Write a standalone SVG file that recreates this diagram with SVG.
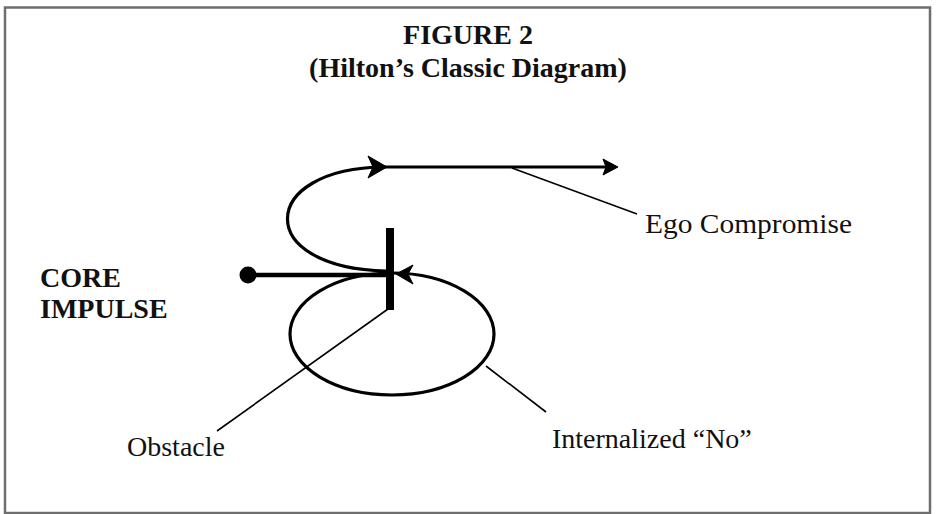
<svg xmlns="http://www.w3.org/2000/svg" width="936" height="514" viewBox="0 0 936 514">
<style>
.t{font-family:"Liberation Serif","Times New Roman",serif;font-size:28px;fill:#111}
.b{font-weight:bold}
.thick{fill:none;stroke:#000;stroke-width:3.2}
.lead{fill:none;stroke:#000;stroke-width:1.6}
.head{fill:#000;stroke:#000;stroke-width:1}
</style>
<rect x="0" y="0" width="936" height="514" fill="#fff"/>
<rect x="5" y="7.5" width="925" height="505.5" fill="none" stroke="#6e6e6e" stroke-width="2.5"/>
<g id="title">
<text class="t b" x="468" y="44" text-anchor="middle">FIGURE 2</text>
<text class="t b" x="468" y="77" text-anchor="middle">(Hilton’s Classic Diagram)</text>
</g>
<g id="core-impulse">
<circle cx="248" cy="275" r="8.5" fill="#000"/>
<text class="t b" x="40" y="287">CORE</text>
<text class="t b" x="40" y="318">IMPULSE</text>
</g>
<g id="obstacle">
<rect x="386" y="228" width="8" height="82" fill="#000"/>
<text class="t" x="127" y="456">Obstacle</text>
</g>
<g id="internalized-no">
<ellipse cx="392" cy="334" rx="102" ry="61" class="thick"/>
<text class="t" x="552" y="448">Internalized “No”</text>
</g>
<g id="ego-compromise">
<text class="t" x="645" y="233" textLength="207" lengthAdjust="spacingAndGlyphs">Ego Compromise</text>
</g>
<g id="connectors">
<line x1="248" y1="275" x2="388" y2="275" stroke="#000" stroke-width="4.5"/>
<path class="thick" d="M386 271 C252 268 258 168 384 167 L612 167"/>
<path class="head" d="M368 156 L387 167 L368 178 L373 167 Z"/>
<path class="head" d="M603 159 L618 167 L603 175 L606 167 Z"/>
<path class="head" d="M413 265 L396 274 L413 284 L408 274 Z"/>
<line class="lead" x1="388" y1="309" x2="217" y2="431"/>
<line class="lead" x1="486" y1="366" x2="546" y2="412"/>
<line class="lead" x1="512" y1="168" x2="637" y2="214"/>
</g>
</svg>
